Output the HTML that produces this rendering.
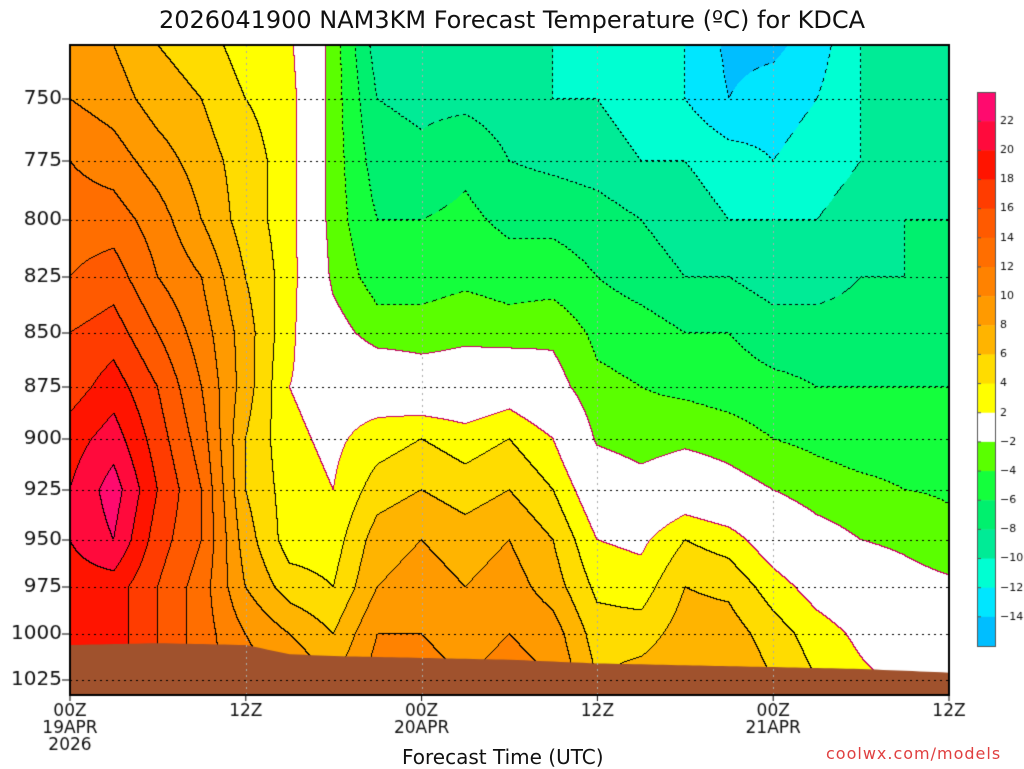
<!DOCTYPE html>
<html><head><meta charset="utf-8"><style>
body{margin:0;background:#fff;width:1024px;height:768px;overflow:hidden;font-family:"DejaVu Sans","Liberation Sans",sans-serif;}
#wrap{position:relative;width:1024px;height:768px;}
canvas{position:absolute;left:0;top:0;}
.t{position:absolute;color:#111;white-space:nowrap;}
</style></head><body>
<div id="wrap">
<canvas id="c" width="1024" height="768"></canvas>
<div class="t" style="left:0;width:1024px;text-align:center;top:6px;font-size:24px;">2026041900 NAM3KM Forecast Temperature (ºC) for KDCA</div>
<div class="t" style="left:402px;top:745px;font-size:20px;">Forecast Time (UTC)</div>
<div class="t" style="left:826px;top:744px;font-size:16px;color:#e04040;letter-spacing:1px;">coolwx.com/models</div>
</div>
<script>
const hours=[0,3,6,9,12,15,18,21,24,27,30,33,36,39,42,45,48,51,54,57,60];
const levels=[728,750,775,800,825,850,875,900,925,950,975,1000,1025];
const temps=[
[9,10,12,13,14,16,17,19,20,20,19,19,19],
[8,9,11,13,15,17,19,21,23,22,19,19,19],
[6,7,9,11,12,14,16,17,18,17,16,16,16],
[5,6,7,8,10,11,12,13,14,14,13,13,13],
[3,4,5,5,6,7,7,6,6,7,8,10,11],
[2.5,3,3,3,3,2.5,2,2.5,3,3,5,8,10],
[-3,-3,-3,-3,-2.5,-1,1,1.5,2,3,4,6,8],
[-9,-8,-7,-6,-5,-3,0.5,3,5,7,8,10,11],
[-9,-8.5,-7.5,-6,-5,-3,-0.5,4,6,8,9,10,11],
[-9.5,-8.5,-6.5,-5.5,-4.5,-2.5,-0.5,3,5,7,8,9,10],
[-9.5,-9,-8,-6.5,-5,-3,0.5,4,6,8,9,10,11],
[-10,-10,-8.5,-6.5,-5,-2.5,-1,2,4,6,7,9,10],
[-11,-10,-9,-7,-6,-4.5,-3.5,-2.3,0,2,3.5,5,6],
[-11,-11,-10,-8,-7,-5,-4,-3,-1,1.5,3,5,7],
[-12,-12,-10,-9,-8,-6,-4.5,-2.5,0,4,6,7,8],
[-14.5,-14,-11,-10,-8,-6,-5,-3,-1,3,5.5,7,8],
[-14.5,-13,-12,-10,-9,-7,-5.5,-4,-2,0.5,3,5,6],
[-13,-12,-11,-10,-9,-7,-6,-4.5,-3,-1,1,3,4],
[-10,-10,-10,-9,-8,-7,-6,-5,-3.5,-2,0,1.5,2.5],
[-9,-9,-9,-8,-8,-7,-6,-5,-4,-2.5,-1,0.5,1.5],
[-8,-8,-8,-8,-7.5,-7,-6,-5,-4.2,-3.5,-1.5,0,0.5]];
const surfHours=[0,6,12,15,18,24,30,36,42,48,54,60];
const surfP=[1006,1005,1006,1011,1012,1013,1014,1016,1017,1018,1019,1021];
const pTicks=[750,775,800,825,850,875,900,925,950,975,1000,1025];
const xTickH=[0,12,24,36,48,60];
const xTickLab=[["00Z","19APR","2026"],["12Z"],["00Z","20APR"],["12Z"],["00Z","21APR"],["12Z"]];
const cbLabels=[22,20,18,16,14,12,10,8,6,4,2,-2,-4,-6,-8,-10,-12,-14];
const colors=["#ff0a6e","#ff0a3c","#ff1400","#ff3c00","#ff5a00","#ff6e00","#ff8200","#ff9a00","#ffb400","#ffdc00","#ffff00","#ffffff","#5aff00","#14ff3c","#00f06e","#00eb96","#00ffd2","#00e6ff","#00beff"];
const bounds=[22,20,18,16,14,12,10,8,6,4,2,-2,-4,-6,-8,-10,-12,-14];

const X0=70,X1=949,Y0=45,Y1=695;
const pPix=[[728,45],[750,99],[775,161],[800,220],[825,277],[850,333],[875,387],[900,439],[925,490],[950,540],[975,587],[1000,634],[1025,680],[1032,695]];
function yOf(p){for(let i=0;i<pPix.length-1;i++){const a=pPix[i],b=pPix[i+1];if(p<=b[0]||i==pPix.length-2)return a[1]+(p-a[0])/(b[0]-a[0])*(b[1]-a[1]);}}
function pOf(y){for(let i=0;i<pPix.length-1;i++){const a=pPix[i],b=pPix[i+1];if(y<=b[1]||i==pPix.length-2)return a[0]+(y-a[1])/(b[1]-a[1])*(b[0]-a[0]);}}
function xOf(h){return X0+h/60*(X1-X0);}
function interp1(xs,ys,x){if(x<=xs[0])return ys[0];for(let i=0;i<xs.length-1;i++){if(x<=xs[i+1]){const t=(x-xs[i])/(xs[i+1]-xs[i]);return ys[i]+t*(ys[i+1]-ys[i]);}}return ys[ys.length-1];}
function temp(h,p){
  let i=Math.min(hours.length-2,Math.max(0,Math.floor(h/3)));let th=(h-hours[i])/3;th=Math.max(0,Math.min(1,th));
  let j=0;while(j<levels.length-2&&p>levels[j+1])j++;let tp=(p-levels[j])/(levels[j+1]-levels[j]);tp=Math.max(0,Math.min(1,tp));
  const a=temps[i][j]*(1-tp)+temps[i][j+1]*tp,b=temps[i+1][j]*(1-tp)+temps[i+1][j+1]*tp;return a*(1-th)+b*th;}
function bin(v){for(let k=0;k<bounds.length;k++)if(v>=bounds[k])return k;return bounds.length;}
function hex(c){return[parseInt(c.substr(1,2),16),parseInt(c.substr(3,2),16),parseInt(c.substr(5,2),16)];}
const rgb=colors.map(hex);
const cv=document.getElementById('c'),ctx=cv.getContext('2d');
const W=X1-X0,H=Y1-Y0;
const img=ctx.createImageData(W,H);const B=new Int8Array(W*H);
for(let y=0;y<H;y++){const p=pOf(Y0+y+0.5);for(let x=0;x<W;x++){const h=(x+0.5)/W*60;B[y*W+x]=bin(temp(h,p));}}
for(let y=0;y<H;y++)for(let x=0;x<W;x++){const k=y*W+x;let c=rgb[B[k]];
  const r=x<W-1?B[k+1]:B[k],d=y<H-1?B[k+W]:B[k];
  if(r!==B[k]||d!==B[k]){const o=r!==B[k]?r:d;const bv=bounds[Math.min(B[k],o)];
    const zero=(B[k]===11||o===11);
    if(zero)c=[200,0,100];else{ if(bv<0&&((x+y)%6)>2){}else c=[0,0,0];}}
  img.data[k*4]=c[0];img.data[k*4+1]=c[1];img.data[k*4+2]=c[2];img.data[k*4+3]=255;}
ctx.putImageData(img,X0,Y0);
ctx.fillStyle="#a0522d";ctx.beginPath();ctx.moveTo(X0,Y1);
for(let h=0;h<=60;h+=0.5)ctx.lineTo(xOf(h),yOf(interp1(surfHours,surfP,h)));
ctx.lineTo(X1,Y1);ctx.closePath();ctx.fill();
ctx.strokeStyle="#000";ctx.lineWidth=1;ctx.setLineDash([2,4]);
pTicks.forEach(p=>{ctx.beginPath();ctx.moveTo(X0,Math.round(yOf(p))+0.5);ctx.lineTo(X1,Math.round(yOf(p))+0.5);ctx.stroke();});
ctx.strokeStyle="#aaa";
xTickH.forEach(h=>{ctx.beginPath();ctx.moveTo(Math.round(xOf(h))+0.5,Y0);ctx.lineTo(Math.round(xOf(h))+0.5,Y1);ctx.stroke();});
ctx.setLineDash([]);
ctx.strokeStyle="#000";ctx.lineWidth=2;ctx.strokeRect(X0,Y0,W,H);
ctx.fillStyle="#111";ctx.font="20px 'DejaVu Sans', sans-serif";ctx.textAlign="right";ctx.textBaseline="middle";ctx.lineWidth=1;
pTicks.forEach(p=>{const y=yOf(p);ctx.fillText(String(p),62,y);ctx.beginPath();ctx.moveTo(62,y);ctx.lineTo(X0,y);ctx.stroke();});
ctx.textAlign="center";ctx.textBaseline="top";ctx.font="17px 'DejaVu Sans', sans-serif";
xTickH.forEach((h,i)=>{const x=xOf(h);ctx.beginPath();ctx.moveTo(x,Y1);ctx.lineTo(x,Y1+6);ctx.stroke();xTickLab[i].forEach((s,j)=>ctx.fillText(s,x,703+j*17));});
const cbX=977,cbY=92,cbW=18,cbH=554,bh=cbH/colors.length;
colors.forEach((c,i)=>{ctx.fillStyle=c;ctx.fillRect(cbX,cbY+i*bh,cbW,bh+0.5);});
ctx.strokeStyle="#555";ctx.strokeRect(cbX+0.5,cbY+0.5,cbW,cbH);
ctx.fillStyle="#111";ctx.font="11px 'DejaVu Sans', sans-serif";ctx.textAlign="left";ctx.textBaseline="middle";
cbLabels.forEach((l,i)=>{const y=cbY+(i+1)*bh;ctx.beginPath();ctx.moveTo(cbX,y);ctx.lineTo(cbX+4,y);ctx.stroke();ctx.fillText(l<0?"\u2212"+(-l):String(l),1000,y);});
</script>
</body></html>
